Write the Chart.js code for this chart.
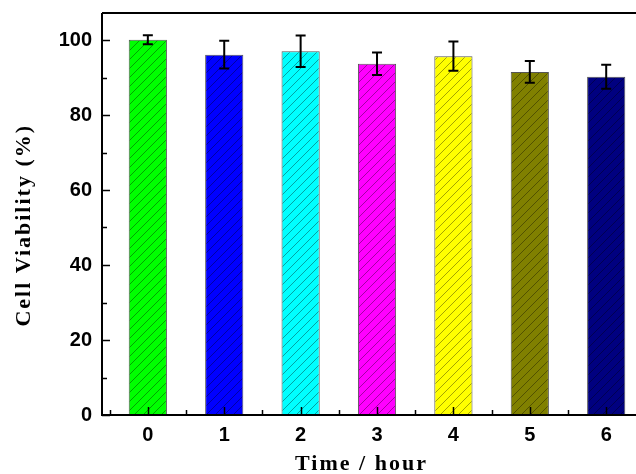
<!DOCTYPE html>
<html>
<head>
<meta charset="utf-8">
<script src="https://cdn.jsdelivr.net/npm/chart.js@4"></script>
<style>
  html, body { margin: 0; padding: 0; background: #fff; overflow: hidden; }
  #wrap { width: 636px; height: 474px; }
</style>
</head>
<body>
<div id="wrap"><canvas id="viabilityChart" width="636" height="474"></canvas></div>
<script>
// values
const hours = [0, 1, 2, 3, 4, 5, 6];
const viability = [100.1, 96.1, 97.0, 93.7, 95.7, 91.5, 90.2];
const viabilityErr = [1.2, 3.7, 4.2, 3.0, 3.9, 2.9, 3.2];
const barColors = ['#00ff00', '#0000ff', '#00ffff', '#ff00ff', '#ffff00', '#808000', '#000080'];
const yTicks = [0, 20, 40, 60, 80, 100];

// diagonal hatch fill like the origin plot
function hatch(color) {
    const size = 9;
    const c = document.createElement('canvas');
    c.width = size;
    c.height = size;
    const g = c.getContext('2d');
    g.fillStyle = color;
    g.fillRect(0, 0, size, size);
    g.strokeStyle = 'rgba(0, 0, 0, 0.45)';
    g.lineWidth = 0.8;
    g.beginPath();
    g.moveTo(0, size); g.lineTo(size, 0);
    g.moveTo(-1, 1); g.lineTo(1, -1);
    g.moveTo(size - 1, size + 1); g.lineTo(size + 1, size - 1);
    g.stroke();
    return g.createPattern(c, 'repeat');
}

// origin spaces the axis title letters out a bit
const spacedTitles = {
    id: 'spacedTitles',
    afterLayout(chart) {
        ['x', 'y'].forEach(id => {
            const s = chart.scales[id];
            if (s._spaced) return;
            const draw = s.drawTitle;
            s.drawTitle = function () {
                this.ctx.save();
                this.ctx.letterSpacing = '2px';
                draw.call(this);
                this.ctx.restore();
            };
            s._spaced = true;
        });
    }
};

// frame, inward ticks and error bars
const frameAndErrors = {
    id: 'frameAndErrors',
    afterDatasetsDraw(chart) {
        const ctx = chart.ctx;
        const area = chart.chartArea;
        const xs = chart.scales.x;
        const ys = chart.scales.y;
        const meta = chart.getDatasetMeta(0);

        ctx.save();
        ctx.strokeStyle = '#000';

        // error bars
        ctx.lineWidth = 2;
        meta.data.forEach((bar, i) => {
            const yHi = ys.getPixelForValue(viability[i] + viabilityErr[i]);
            const yLo = ys.getPixelForValue(viability[i] - viabilityErr[i]);
            ctx.beginPath();
            ctx.moveTo(bar.x, yHi); ctx.lineTo(bar.x, yLo);
            ctx.moveTo(bar.x - 5, yHi); ctx.lineTo(bar.x + 5, yHi);
            ctx.moveTo(bar.x - 5, yLo); ctx.lineTo(bar.x + 5, yLo);
            ctx.stroke();
        });

        // axes + top border
        ctx.lineWidth = 2;
        ctx.beginPath();
        ctx.moveTo(area.left, area.top);
        ctx.lineTo(area.left, area.bottom);
        ctx.lineTo(area.right, area.bottom);
        ctx.moveTo(area.left, area.top);
        ctx.lineTo(area.right, area.top);
        ctx.stroke();

        // y ticks (major every 20, minor in between)
        ctx.lineWidth = 1.5;
        ctx.beginPath();
        for (let v = 0; v <= 100; v += 10) {
            const y = Math.round(ys.getPixelForValue(v)) + 0.5;
            const len = v % 20 === 0 ? 8 : 5;
            ctx.moveTo(area.left, y);
            ctx.lineTo(area.left + len, y);
        }
        // x ticks (major at each hour, minor halfway)
        for (let h = -0.5; h <= 6.5; h += 0.5) {
            const x = Math.round(xs.getPixelForValue(h)) + 0.5;
            if (x > area.right) continue;
            const len = Number.isInteger(h) ? 8 : 5;
            ctx.moveTo(x, area.bottom);
            ctx.lineTo(x, area.bottom - len);
        }
        ctx.stroke();
        ctx.restore();
    }
};

new Chart(document.getElementById('viabilityChart').getContext('2d'), {
    type: 'bar',
    data: {
        datasets: [{
            data: hours.map((h, i) => ({ x: h, y: viability[i] })),
            backgroundColor: barColors.map(hatch),
            borderColor: '#555',
            borderWidth: 1,
            barPercentage: 0.5,
            categoryPercentage: 1
        }]
    },
    options: {
        responsive: false,
        animation: false,
        layout: { padding: { top: 13, right: 0, bottom: 0, left: 0 } },
        plugins: {
            legend: { display: false },
            tooltip: { enabled: false }
        },
        scales: {
            x: {
                type: 'linear',
                offset: false,
                min: -0.6,
                max: 6.39,
                afterFit: (scale) => {
                    scale.height = 59;
                    scale.paddingLeft = 0;
                    scale.paddingRight = 0;
                },
                afterBuildTicks: (scale) => {
                    scale.ticks = hours.map(h => ({ value: h }));
                },
                grid: { display: false, drawTicks: false },
                border: { display: false },
                ticks: {
                    padding: 8,
                    color: '#000',
                    font: { family: '"Liberation Sans", Arial, sans-serif', size: 20, weight: 'bold' },
                    callback: (v) => String(v)
                },
                title: {
                    display: true,
                    text: 'Time / hour\u00a0\u00a0',
                    color: '#000',
                    padding: { top: 0, bottom: -1 },
                    font: { family: '"Liberation Serif", "Times New Roman", serif', size: 22, weight: 'bold', lineHeight: 1 }
                }
            },
            y: {
                min: 0,
                max: 107.2,
                afterFit: (scale) => {
                    scale.width = 102;
                    scale.paddingTop = 0;
                    scale.paddingBottom = 0;
                },
                afterBuildTicks: (scale) => {
                    scale.ticks = yTicks.map(v => ({ value: v }));
                },
                grid: { display: false, drawTicks: false },
                border: { display: false },
                ticks: {
                    padding: 10,
                    color: '#000',
                    font: { family: '"Liberation Sans", Arial, sans-serif', size: 20, weight: 'bold' }
                },
                title: {
                    display: true,
                    text: 'Cell Viability (%)\u00a0\u00a0\u00a0',
                    color: '#000',
                    padding: { top: 13, bottom: 0 },
                    font: { family: '"Liberation Serif", "Times New Roman", serif', size: 22, weight: 'bold', lineHeight: 1 }
                }
            }
        }
    },
    plugins: [frameAndErrors, spacedTitles]
});
</script>
</body>
</html>
